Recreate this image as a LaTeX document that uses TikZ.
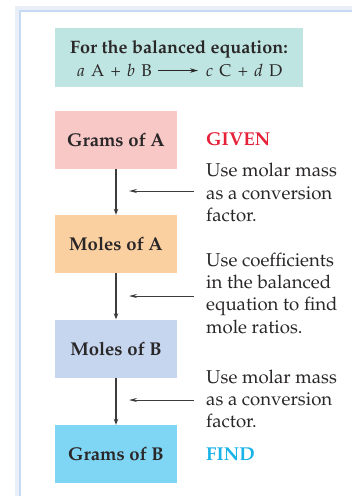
\documentclass[tikz,border=0pt]{standalone}
\usepackage[T1]{fontenc}
\usepackage{mathpazo}
\usetikzlibrary{arrows.meta}
\definecolor{txt}{HTML}{2A2728}
\definecolor{frameblue}{HTML}{C6DAF3}
\definecolor{frameshadow}{HTML}{E9EFF8}
\definecolor{eqfill}{HTML}{BEE5E1}
\definecolor{pinkfill}{HTML}{F8C8C6}
\definecolor{orangefill}{HTML}{FBD0A0}
\definecolor{lavfill}{HTML}{C6D6EF}
\definecolor{cyanfill}{HTML}{7FD6F4}
\definecolor{givenred}{HTML}{E5223A}
\definecolor{findcyan}{HTML}{18B3E8}
\definecolor{arrowgray}{HTML}{3C3C3C}
\newcommand{\eqsp}{\hspace{6.3pt}}
\tikzset{
  x=1pt, y=1pt,
  stepbox/.style={minimum width=122pt, minimum height=58pt, inner sep=0pt,
    font=\fontsize{18.5}{22}\selectfont\bfseries, text=txt},
  note/.style={anchor=base west, inner sep=0pt, font=\fontsize{18.6}{22}\selectfont, text=txt},
  flow/.style={draw=arrowgray, line width=1.1pt, -{Stealth[length=6pt,width=4.5pt]}},
  hint/.style={draw=arrowgray, line width=1pt, -{Stealth[length=8pt,width=4pt]}},
  eqtext/.style={inner sep=0pt, text=txt, font=\fontsize{17}{20}\selectfont},
}
\begin{document}
\begin{tikzpicture}
\useasboundingbox (0,0) rectangle (352,-496);
% frame
\draw[frameshadow, line width=5pt] (17.5,-496) -- (17.5,-8.5) -- (352,-8.5);
\draw[frameblue, line width=2pt] (20,-496) -- (20,-11) -- (352,-11);
\fill[white] (21,-12) rectangle (352,-496);
% equation box
\fill[eqfill] (55,-28) rectangle (303,-87);
\node[inner sep=0pt, anchor=base, text=txt, font=\fontsize{18}{20}\selectfont\bfseries] (eqtitle) at (179,-53.5) {For the balanced equation:};
\node[eqtext, anchor=base east] (eqleft) at (152,-76) {\textit{a}\eqsp A\eqsp+\eqsp\textit{b}\eqsp B};
\node[eqtext, anchor=base west] (eqright) at (206,-76) {\textit{c}\eqsp C\eqsp+\eqsp\textit{d}\eqsp D};
\draw[draw=txt, line width=0.9pt, -{Stealth[length=8pt,width=4.5pt]}] ([xshift=6pt,yshift=-0.5pt]eqleft.east) -- ([xshift=-8pt,yshift=-0.5pt]eqright.west);
% boxes
\node[stepbox, fill=pinkfill] (gA) at (116,-140) {Grams of A};
\node[stepbox, fill=orangefill] (mA) at (116,-244) {Moles of A};
\node[stepbox, fill=lavfill] (mB) at (116,-348.5) {Moles of B};
\node[stepbox, fill=cyanfill] (gB) at (116,-454) {Grams of B};
\draw[flow] (gA) -- (mA);
\draw[flow] (mA) -- (mB);
\draw[flow] (mB) -- (gB);
% hint arrows
\coordinate (h1s) at (194,-191); \coordinate (h1e) at (129,-191);
\coordinate (h2s) at (194,-296); \coordinate (h2e) at (129,-296);
\coordinate (h3s) at (194,-400); \coordinate (h3e) at (129,-400);
\draw[hint] (h1s) -- (h1e);
\draw[hint] (h2s) -- (h2e);
\draw[hint] (h3s) -- (h3e);
% notes
\node[note, font=\fontsize{18.6}{22}\selectfont\bfseries, text=givenred] (given) at (206,-145) {GIVEN};
\node[note] (n1a) at (206,-176.5) {Use molar mass};
\node[note] (n1b) at (206,-199) {as a conversion};
\node[note] (n1c) at (206,-221.5) {factor.};
\node[note] (n2a) at (206,-266.5) {Use coefficients};
\node[note] (n2b) at (206,-288.5) {in the balanced};
\node[note] (n2c) at (206,-310.7) {equation to find};
\node[note] (n2d) at (206,-333) {mole ratios.};
\node[note] (n3a) at (206,-383) {Use molar mass};
\node[note] (n3b) at (206,-405) {as a conversion};
\node[note] (n3c) at (206,-427.5) {factor.};
\node[note, font=\fontsize{18.6}{22}\selectfont\bfseries, text=findcyan] (find) at (206,-460.5) {FIND};
\end{tikzpicture}
\end{document}
